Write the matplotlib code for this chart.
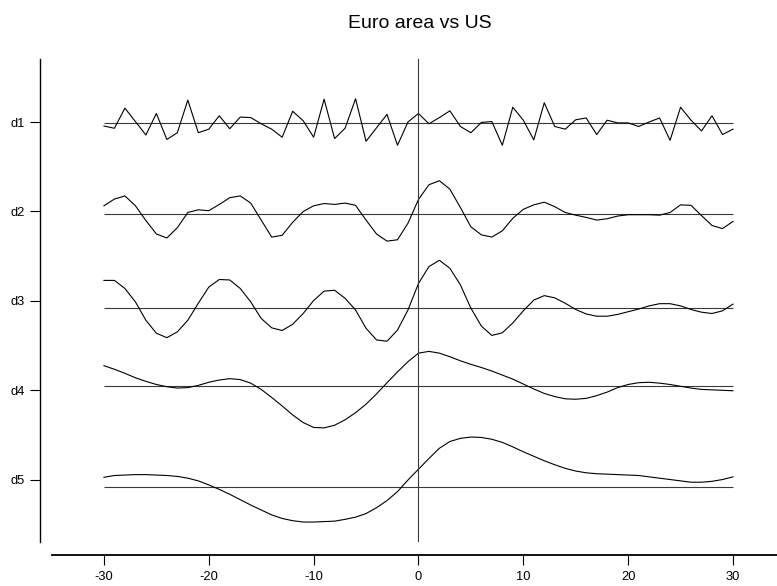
import numpy as np
import matplotlib
matplotlib.use("Agg")
import matplotlib.pyplot as plt

plt.rcParams['font.family'] = ['Liberation Sans', 'DejaVu Sans']
plt.rcParams['axes.unicode_minus'] = False

# lags of the wavelet cross-correlation
lags = np.arange(-30, 31)

# rows (scales) and where their zero lines sit
scales = ["d1", "d2", "d3", "d4", "d5"]
zero_line = [1.015, 2.031, 3.075, 3.953, 5.075]

# correlation curves, one per scale (lag -30 .. 30)
d1 = [-0.06, -0.11, 0.34, 0.04, -0.26, 0.22, -0.36, -0.21, 0.52, -0.21,
      -0.13, 0.17, -0.12, 0.14, 0.13, -0.01, -0.13, -0.31, 0.27, 0.06,
      -0.31, 0.54, -0.34, -0.11, 0.55, -0.40, -0.10, 0.20, -0.49, 0.03,
      0.22, -0.01, 0.13, 0.28, -0.07, -0.21, 0.02, 0.04, -0.49, 0.36,
      0.07, -0.37, 0.46, -0.07, -0.13, 0.08, 0.12, -0.25, 0.07, 0.01,
      0.01, -0.07, 0.03, 0.12, -0.38, 0.36, 0.07, -0.17, 0.17, -0.25,
      -0.13]
d2 = [0.19, 0.34, 0.41, 0.19, -0.14, -0.44, -0.53, -0.30, 0.04, 0.10,
      0.08, 0.22, 0.37, 0.41, 0.25, -0.13, -0.51, -0.47, -0.18, 0.06,
      0.19, 0.24, 0.22, 0.25, 0.20, -0.13, -0.44, -0.60, -0.57, -0.20,
      0.33, 0.66, 0.75, 0.56, 0.15, -0.28, -0.46, -0.51, -0.37, -0.09,
      0.11, 0.21, 0.27, 0.17, 0.04, -0.02, -0.07, -0.13, -0.10, -0.04,
      -0.01, -0.01, -0.01, -0.02, 0.04, 0.21, 0.20, -0.03, -0.25, -0.32,
      -0.16]
d3 = [0.61, 0.61, 0.43, 0.13, -0.28, -0.57, -0.67, -0.54, -0.28, 0.10,
      0.46, 0.63, 0.62, 0.43, 0.13, -0.24, -0.45, -0.51, -0.37, -0.13,
      0.16, 0.37, 0.39, 0.21, -0.05, -0.46, -0.72, -0.75, -0.50, -0.05,
      0.54, 0.92, 1.06, 0.88, 0.51, -0.01, -0.41, -0.62, -0.56, -0.34,
      -0.07, 0.17, 0.27, 0.22, 0.10, -0.04, -0.14, -0.19, -0.19, -0.15,
      -0.09, -0.03, 0.04, 0.09, 0.09, 0.04, -0.04, -0.10, -0.13, -0.07,
      0.08]
d4 = [0.46, 0.38, 0.29, 0.19, 0.11, 0.04, -0.01, -0.04, -0.03, 0.02,
      0.09, 0.14, 0.17, 0.15, 0.07, -0.07, -0.25, -0.44, -0.64, -0.81,
      -0.92, -0.93, -0.87, -0.75, -0.59, -0.40, -0.17, 0.08, 0.32, 0.55,
      0.74, 0.78, 0.74, 0.66, 0.57, 0.49, 0.42, 0.34, 0.25, 0.16,
      0.05, -0.06, -0.16, -0.23, -0.28, -0.29, -0.27, -0.21, -0.13, -0.03,
      0.04, 0.08, 0.09, 0.07, 0.04, 0.00, -0.04, -0.07, -0.08, -0.09,
      -0.10]
d5 = [0.21, 0.25, 0.26, 0.27, 0.27, 0.26, 0.25, 0.23, 0.19, 0.13,
      0.04, -0.06, -0.17, -0.29, -0.41, -0.52, -0.63, -0.71, -0.76, -0.79,
      -0.79, -0.78, -0.77, -0.73, -0.68, -0.60, -0.47, -0.31, -0.11, 0.15,
      0.39, 0.63, 0.86, 1.01, 1.08, 1.11, 1.10, 1.06, 0.99, 0.89,
      0.78, 0.68, 0.58, 0.49, 0.41, 0.35, 0.31, 0.29, 0.28, 0.27,
      0.26, 0.25, 0.22, 0.19, 0.16, 0.13, 0.10, 0.10, 0.12, 0.16,
      0.22]
curves = [d1, d2, d3, d4, d5]

amp = 0.5  # height of one correlation unit, in rows

fig = plt.figure(figsize=(7.77, 5.86), dpi=100)
ax = fig.add_axes([40/777, 1 - 542/586, 1 - 40/777, (542 - 59)/586])

for base, c in zip(zero_line, curves):
    ax.hlines(base, -30, 30, color='#3a3a3a', lw=0.8)
    ax.plot(lags, base - amp*np.array(c), color='black', lw=0.8)

ax.axvline(0, color='#3a3a3a', lw=0.8)

ax.set_xlim(-36.1, 34.2)
ax.set_ylim(5.693, 0.296)

ax.set_xticks([-30, -20, -10, 0, 10, 20, 30])
ax.set_yticks(range(1, 6))
ax.set_yticklabels(scales)

for s in ['top', 'right']:
    ax.spines[s].set_visible(False)
ax.spines['left'].set_linewidth(1.0)
ax.spines['bottom'].set_linewidth(1.3)
ax.spines['bottom'].set_position(('outward', 9.4))
ax.spines['bottom'].set_bounds(-35, 34.2)

ax.tick_params(axis='both', direction='out', length=7.2, width=0.8,
               labelsize=9.3, colors='black')
ax.tick_params(axis='x', pad=4)
ax.tick_params(axis='y', pad=3.5)

fig.text(420/777, 1 - 23/586, "Euro area vs US", ha='center', va='center',
         fontsize=14)

fig.savefig("out.png", dpi=100)
